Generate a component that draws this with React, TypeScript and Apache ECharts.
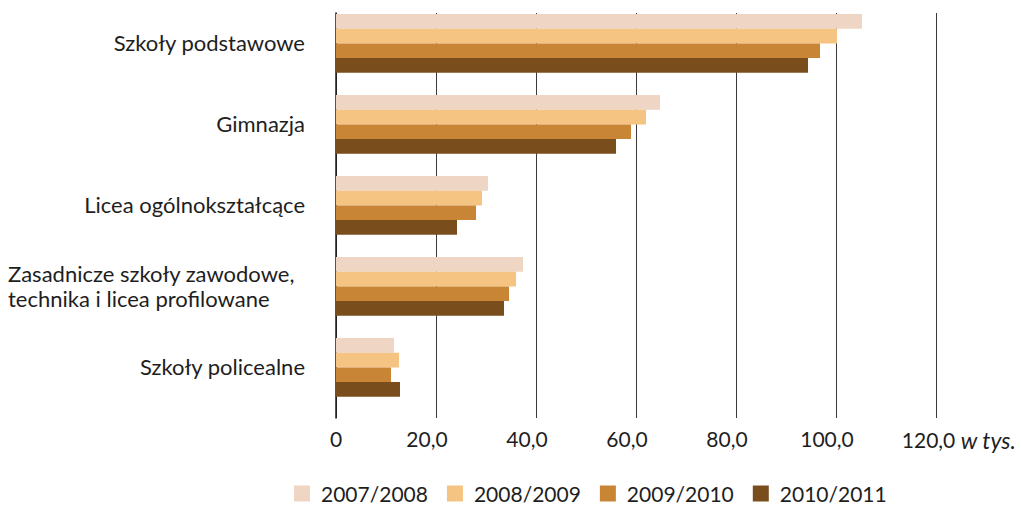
import { useEffect, useRef } from 'react';
import * as echarts from 'echarts';

const categories = [
  'Szkoły podstawowe',
  'Gimnazja',
  'Licea ogólnokształcące',
  'Zasadnicze szkoły zawodowe,\ntechnika i licea profilowane',
  'Szkoły policealne',
];
const seriesNames = ['2007/2008', '2008/2009', '2009/2010', '2010/2011'];
const values2007 = [105.2, 64.8, 30.4, 37.4, 11.6];
const values2008 = [100.2, 62.0, 29.2, 36.0, 12.6];
const values2009 = [96.8, 59.0, 28.0, 34.6, 11.0];
const values2010 = [94.4, 56.0, 24.2, 33.6, 12.8];
const seriesValues = [values2007, values2008, values2009, values2010];
const colors = ['#EED5C4', '#F5C382', '#C98536', '#7A4E1C'];
const xMin = 0;
const xMax = 120;
const xStep = 20;
const unitLabel = 'w tys.';

const FONT = 'Lato, sans-serif';
const TXT = '#1e1e1e';

export default function App() {
  const ref = useRef<HTMLDivElement>(null);
  useEffect(() => {
    if (!ref.current) return;
    const chart = echarts.init(ref.current, null, { renderer: 'svg' });
    const base = { fontFamily: FONT, fontSize: 21, color: TXT };
    const cat = { fontFamily: FONT, fontSize: 22, color: TXT };
    const series: any[] = seriesNames.map((name, i) => ({
      name,
      type: 'bar',
      data: seriesValues[i],
      barWidth: 14.7,
      barGap: '0%',
      itemStyle: { color: colors[i] },
    }));
    series.push({
      name: 'spacer',
      type: 'bar',
      data: categories.map(() => null),
      barWidth: 20.2,
      barGap: '0%',
      silent: true,
      itemStyle: { color: 'transparent' },
    });
    chart.setOption({
      animation: false,
      color: colors,
      grid: { left: 336, right: 85, top: 13, bottom: 89, containLabel: false },
      legend: {
        data: seriesNames,
        left: 294,
        top: 483,
        padding: 0,
        itemWidth: 16,
        itemHeight: 16,
        itemGap: 19,
        icon: 'rect',
        textStyle: { ...base, lineHeight: 20, padding: [0, 0, 0, 6] },
      },
      xAxis: {
        type: 'value',
        min: xMin,
        max: xMax,
        interval: xStep,
        axisLine: { show: false },
        axisTick: { show: false },
        splitLine: { show: true, lineStyle: { color: '#3a3a3a', width: 1 } },
        axisLabel: {
          ...base,
          margin: 10,
          formatter: (v: number) => {
            const s = v === 0 ? '0' : v.toFixed(1).replace('.', ',');
            if (v === 0) return `{n|${s}}`;
            if (v === xMax) return `{sp1| }{n|${s}}{i| ${unitLabel}}`;
            return `{n|${s}}{sp2| }`;
          },
          rich: {
            n: { ...base },
            i: { ...base, fontStyle: 'italic', fontSize: 23 },
            sp1: { ...base, width: 46 },
            sp2: { ...base, width: 18 },
          },
        },
      },
      yAxis: {
        type: 'category',
        data: categories,
        inverse: true,
        axisLine: { show: true, lineStyle: { color: '#1a1a1a', width: 1.5 } },
        axisTick: { show: false },
        splitLine: { show: false },
        axisLabel: {
          ...cat,
          margin: 31,
          padding: [0, 0, 22, 0],
          formatter: (v: string) =>
            v.includes('\n')
              ? v.split('\n').map((l) => `{m|${l}}`).join('\n')
              : `{c|${v}}`,
          rich: {
            c: { ...cat, lineHeight: 25 },
            m: { ...cat, lineHeight: 25, width: 297, align: 'left' },
          },
        },
      },
      series,
    });
    return () => chart.dispose();
  }, []);
  return (
    <div
      ref={ref}
      style={{ position: 'fixed', left: 0, top: 0, width: 1021, height: 507, background: '#fff' }}
    />
  );
}
